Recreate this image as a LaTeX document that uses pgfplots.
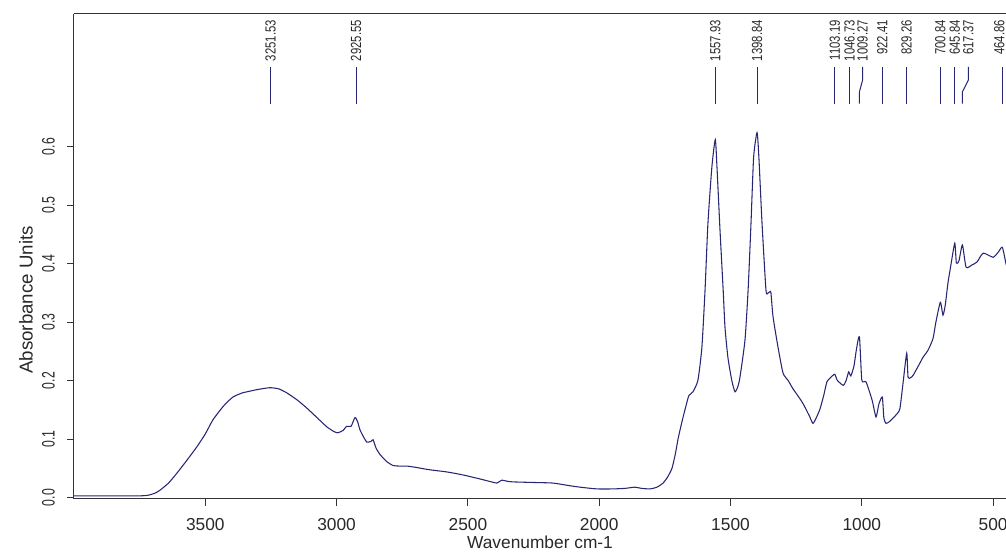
\documentclass[border=0pt]{standalone}
\usepackage{pgfplots}
\pgfplotsset{compat=1.18}
\usepackage{graphicx}
\usepackage{fontspec}
\setmainfont{Liberation Sans}
\definecolor{spec}{RGB}{38,38,115}
\definecolor{txt}{RGB}{40,40,40}
\pgfplotstableread{
w a
4000 0.003
3850 0.003
3760 0.003
3720 0.004
3690 0.008
3672 0.013
3640 0.025
3608 0.042
3570 0.064
3532 0.087
3500 0.109
3471 0.133
3430 0.157
3395 0.172
3360 0.179
3341 0.181
3300 0.185
3254 0.188
3220 0.186
3189 0.179
3150 0.167
3113 0.153
3075 0.137
3037 0.121
3010 0.113
2995 0.111
2975 0.115
2962 0.122
2945 0.122
2930 0.137
2920 0.130
2911 0.116
2895 0.102
2885 0.095
2870 0.096
2861 0.099
2850 0.085
2835 0.074
2810 0.062
2785 0.055
2760 0.054
2732 0.054
2700 0.052
2650 0.048
2580 0.044
2520 0.039
2454 0.032
2410 0.027
2390 0.025
2370 0.030
2350 0.028
2328 0.027
2250 0.026
2176 0.025
2120 0.021
2073 0.018
2009 0.015
1947 0.015
1900 0.016
1864 0.018
1840 0.016
1807 0.015
1780 0.018
1757 0.025
1740 0.035
1723 0.050
1710 0.075
1700 0.100
1690 0.120
1681 0.137
1665 0.165
1658 0.175
1643 0.181
1624 0.201
1609 0.257
1597 0.355
1586 0.469
1571 0.565
1558 0.612
1551 0.560
1540 0.457
1528 0.355
1521 0.291
1510 0.240
1495 0.200
1483 0.181
1472 0.190
1464 0.206
1445 0.269
1433 0.355
1422 0.469
1412 0.582
1399 0.624
1392 0.582
1380 0.469
1365 0.355
1357 0.350
1350 0.352
1346 0.350
1338 0.309
1319 0.257
1300 0.213
1280 0.200
1262 0.186
1240 0.172
1224 0.161
1200 0.140
1186 0.127
1172 0.138
1159 0.152
1145 0.175
1133 0.198
1120 0.205
1103 0.211
1094 0.201
1071 0.192
1060 0.200
1050 0.215
1042 0.208
1030 0.225
1020 0.255
1009 0.275
1000 0.201
984 0.198
961 0.167
946 0.138
935 0.160
922 0.172
916 0.136
908 0.127
895 0.130
881 0.136
865 0.144
855 0.152
843 0.196
829 0.247
824 0.206
815 0.205
805 0.209
785 0.225
767 0.240
748 0.252
729 0.272
718 0.300
701 0.334
691 0.312
682 0.330
672 0.367
660 0.400
646 0.435
640 0.401
630 0.405
617 0.432
603 0.394
580 0.398
561 0.403
538 0.418
500 0.411
480 0.420
465 0.428
451 0.400
440 0.380
}\spectrum
\tikzset{pk/.style={spec,line width=0.75pt},
  pkl/.style={rotate=90,anchor=east,inner sep=0pt,font=\fontsize{11}{12}\selectfont,text=txt}}
\newcommand{\pk}[2]{%
  \draw[pk] (axis cs:#1,0.6735) -- (axis cs:#1,0.7362);
  \node[pkl] at (axis cs:#1,0.8166) {\scalebox{0.77}[1]{#2}};}
\newcommand{\pkt}[3]{%
  \draw[pk] (axis cs:#1,0.6735) -- (axis cs:#1,0.7362);
  \node[pkl] at (axis cs:#2,0.8166) {\scalebox{0.77}[1]{#3}};}
\newcommand{\pkb}[3]{%
  \draw[pk] (axis cs:#1,0.7362) -- (axis cs:#1,0.714) -- (axis cs:#2,0.6935) -- (axis cs:#2,0.6735);
  \node[pkl] at (axis cs:#1,0.8166) {\scalebox{0.77}[1]{#3}};}
\newcommand{\yl}[1]{\scalebox{0.68}[1]{#1}}
\begin{document}
\begin{tikzpicture}
\begin{axis}[
  scale only axis,
  width=699pt, height=363.525pt,
  x dir=reverse,
  xmin=451, xmax=4000,
  ymin=-0.0017, ymax=0.8268,
  axis x line*=box, axis y line*=left,
  axis line style={black!80,line width=0.75pt},
  xtick pos=bottom, ytick pos=left,
  tick align=outside,
  major tick length=5.25pt,
  tick style={black!80,line width=0.75pt},
  xtick={500,1000,1500,2000,2500,3000,3500},
  xticklabels={500,1000,1500,2000,2500,3000,3500},
  ytick={0,0.1,0.2,0.3,0.4,0.5,0.6},
  yticklabels={\yl{0.0},\yl{0.1},\yl{0.2},\yl{0.3},\yl{0.4},\yl{0.5},\yl{0.6}},
  xticklabel shift=9pt,
  yticklabel shift=9pt,
  xticklabel style={font=\fontsize{13}{14}\selectfont,text=txt,inner sep=0pt,anchor=north},
  yticklabel style={font=\fontsize{13.5}{14}\selectfont,text=txt,inner sep=0pt,rotate=90,anchor=south},
  xlabel={Wavenumber cm-1},
  ylabel={Absorbance Units},
  xlabel style={font=\fontsize{13}{14}\selectfont,text=txt,at={(axis description cs:0.5,-0.0905)},anchor=center},
  ylabel style={font=\fontsize{14}{15}\selectfont,text=txt,at={(axis description cs:-0.0515,0.41)},anchor=center},
  clip=true,
]
\addplot[spec,line width=0.8pt,smooth,tension=0.35] table[x=w,y=a] {\spectrum};
\pk{3251.53}{3251.53}
\pk{2925.55}{2925.55}
\pk{1557.93}{1557.93}
\pk{1398.84}{1398.84}
\pk{1103.19}{1103.19}
\pk{1046.73}{1046.73}
\pkb{997}{1009.27}{1009.27}
\pk{922.41}{922.41}
\pk{829.26}{829.26}
\pk{700.84}{700.84}
\pk{645.84}{645.84}
\pkb{594}{617.37}{617.37}
\pkt{466}{476}{464.86}
\end{axis}
\pgfresetboundingbox
\path ([shift={(-55.5pt,-40.725pt)}]current axis.south west) rectangle ([shift={(0pt,10.5pt)}]current axis.north east);
\end{tikzpicture}
\end{document}
